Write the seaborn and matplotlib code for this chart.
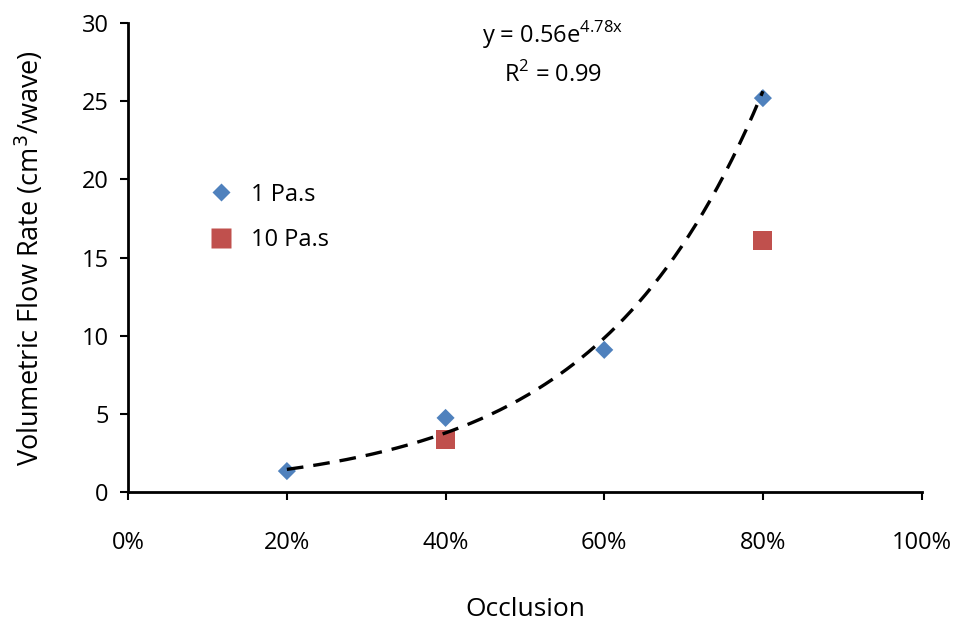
import numpy as np
import pandas as pd
import matplotlib
matplotlib.use('Agg')
import matplotlib.pyplot as plt
import seaborn as sns

# data
occl_1pas = [0.2, 0.4, 0.6, 0.8]
flow_1pas = [1.35, 4.75, 9.1, 25.2]
occl_10pas = [0.4, 0.8]
flow_10pas = [3.35, 16.1]

# trendline coefficients as printed on the chart
fit_a = 0.56
fit_b = 4.78

df = pd.concat([
    pd.DataFrame({'Occlusion': occl_1pas, 'Flow': flow_1pas, 'Fluid': '1 Pa.s'}),
    pd.DataFrame({'Occlusion': occl_10pas, 'Flow': flow_10pas, 'Fluid': '10 Pa.s'}),
])

sns.set_style('ticks')
plt.rcParams['font.family'] = ['Open Sans', 'DejaVu Sans']
plt.rcParams['text.color'] = 'black'
plt.rcParams['axes.labelcolor'] = 'black'
plt.rcParams['xtick.color'] = 'black'
plt.rcParams['ytick.color'] = 'black'
plt.rcParams['axes.edgecolor'] = 'black'

fig = plt.figure(figsize=(9.64, 6.23), dpi=100)
ax = fig.add_axes([0.133, 0.21, 0.823, 0.753])

xs = np.linspace(min(occl_1pas), max(occl_1pas), 200)
ax.plot(xs, fit_a * np.exp(fit_b * xs), color='black', lw=2.4, ls=(0, (5, 3)), zorder=3)

sns.scatterplot(data=df, x='Occlusion', y='Flow', hue='Fluid', style='Fluid',
                markers={'1 Pa.s': 'D', '10 Pa.s': 's'},
                palette={'1 Pa.s': '#4F81BD', '10 Pa.s': '#C0504D'},
                size='Fluid', sizes={'1 Pa.s': 85, '10 Pa.s': 190},
                edgecolor='none', ax=ax, zorder=2)

ax.set_xlim(0, 1)
ax.set_ylim(0, 30)
ax.set_xticks(np.arange(0, 1.01, 0.2))
ax.set_xticklabels([f'{int(round(v * 100))}%' for v in np.arange(0, 1.01, 0.2)])
ax.set_yticks(range(0, 31, 5))
ax.tick_params(labelsize=17, width=1.5, length=6)
ax.tick_params(axis='x', pad=22)
ax.tick_params(axis='y', pad=8)
for sp in ['left', 'bottom']:
    ax.spines[sp].set_linewidth(2)
sns.despine(ax=ax)

ax.set_xlabel('Occlusion', fontsize=19, labelpad=30)
ax.set_ylabel('Volumetric Flow Rate (cm$^3$/wave)', fontsize=19.5, labelpad=26)

ax.text(0.535, 0.975, 'y = 0.56e$^{\\mathregular{4.78x}}$', transform=ax.transAxes,
        ha='center', va='center', fontsize=17)
ax.text(0.535, 0.89, 'R$^\\mathregular{2}$ = 0.99', transform=ax.transAxes,
        ha='center', va='center', fontsize=17)

ax.legend(title=None, frameon=False, fontsize=17, loc='upper left',
          bbox_to_anchor=(0.06, 0.705), labelspacing=0.9, handletextpad=0.3)

fig.savefig('out.png', dpi=100)
